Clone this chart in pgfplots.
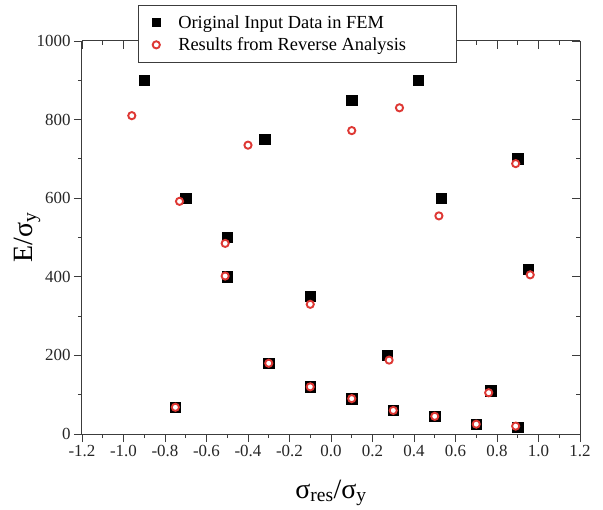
\documentclass[border=0pt]{standalone}
\usepackage{fontspec}
\setmainfont{Liberation Serif}
\usepackage{pgfplots}
\pgfplotsset{compat=1.18}
\definecolor{resred}{RGB}{222,56,52}
\definecolor{axgray}{RGB}{60,60,60}

\pgfplotsset{
  frameaxis/.style={
    scale only axis, width=498bp, height=393bp,
    xmin=-1.2, xmax=1.2, ymin=0, ymax=1000,
    xtick={-1.2,-1.0,-0.8,-0.6,-0.4,-0.2,0,0.2,0.4,0.6,0.8,1.0,1.2},
    ytick={0,200,400,600,800,1000},
    minor x tick num=1, minor y tick num=1,
    major tick length=8bp, minor tick length=4bp,
    every tick/.style={axgray, line width=0.9bp},
    axis line style={-, axgray, line width=1bp},
  }
}

\begin{document}
\begin{tikzpicture}
% top and right frame, ticks pointing in
\begin{axis}[frameaxis, axis x line*=top, axis y line*=right,
    tick align=inside, xticklabels={}, yticklabels={}]
\end{axis}
% main axis with data
\begin{axis}[frameaxis, name=ax,
    axis x line*=bottom, axis y line*=left, tick align=outside,
    /pgf/number format/assume math mode=true,
    tick label style={font=\fontsize{17}{20}\selectfont, text=black!85},
    xticklabel style={/pgf/number format/.cd, fixed, fixed zerofill, precision=1},
    yticklabel style={/pgf/number format/1000 sep={}},
    xlabel={σ\textsubscript{res}/σ\textsubscript{y}},
    ylabel={E/σ\textsubscript{y}},
    label style={font=\fontsize{28}{32}\selectfont},
    xlabel style={at={(axis description cs:0.5,-0.150)}, anchor=center},
    ylabel style={at={(axis description cs:-0.110,0.5)}, anchor=center},
    legend cell align=left,
    legend style={at={(axis description cs:0.112,1.092)}, anchor=north west,
      draw=axgray, line width=1bp, fill=white,
      inner xsep=14bp, inner ysep=8bp, row sep=4bp,
      /tikz/every odd column/.append style={column sep=16bp},
      font=\fontsize{18.5}{22}\selectfont},
]
\addplot[only marks, mark=square*, mark size=5.2bp, black,
  legend image post style={mark size=4bp}] coordinates {
  (-0.90,900)(-0.70,600)(-0.50,500)(-0.50,400)(-0.32,750)(-0.10,350)
  (-0.30,180)(-0.75,68)(-0.10,120)(0.10,850)(0.10,90)(0.27,200)
  (0.30,60)(0.42,900)(0.53,600)(0.50,45)(0.70,25)(0.77,110)
  (0.90,700)(0.95,420)(0.90,18)};
\addlegendentry{\makebox[262bp][l]{Original Input Data in FEM}}
\addplot[only marks, mark=*, mark size=3.6bp,
  mark options={draw=resred, fill=white, line width=1.9bp}] coordinates {
  (-0.96,810)(-0.73,592)(-0.51,485)(-0.51,402)(-0.40,735)(-0.10,330)
  (-0.30,180)(-0.75,68)(-0.10,120)(0.10,772)(0.10,90)(0.28,188)
  (0.30,60)(0.33,830)(0.52,555)(0.50,45)(0.70,25)(0.76,105)
  (0.89,688)(0.96,405)(0.89,20)};
\addlegendentry{Results from Reverse Analysis}
\end{axis}
\pgfresetboundingbox
\path ([shift={(-82bp,-76bp)}]ax.south west) rectangle ++(603bp,510bp);
\end{tikzpicture}
\end{document}
